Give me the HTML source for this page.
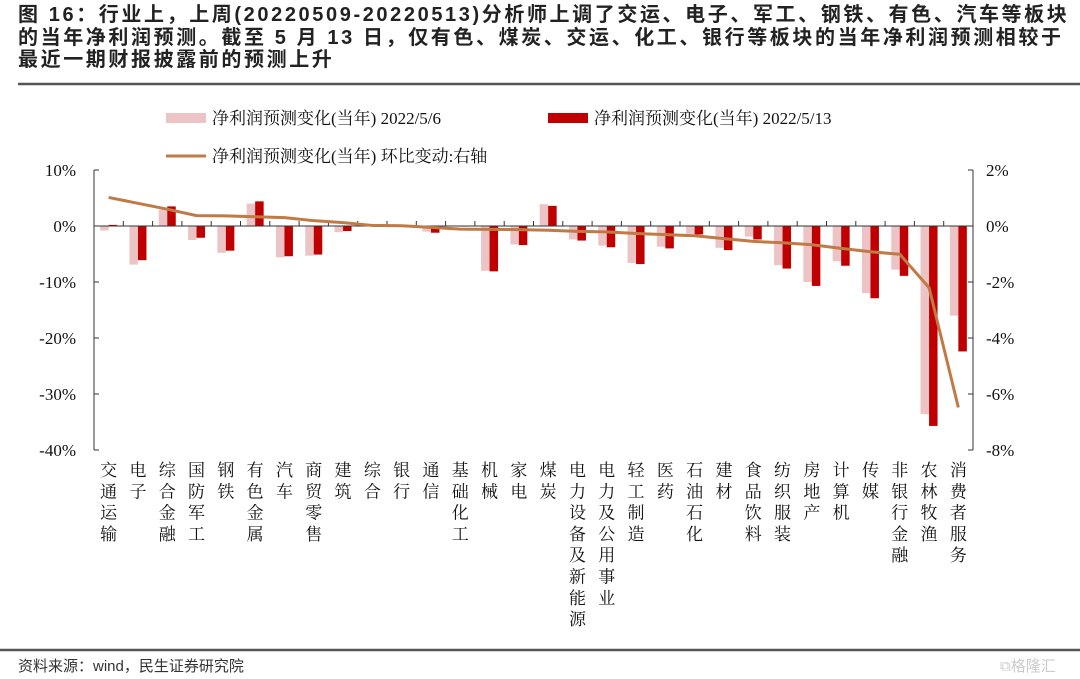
<!DOCTYPE html>
<html><head><meta charset="utf-8">
<style>
body{margin:0;background:#fff;width:1080px;height:679px;overflow:hidden;font-family:"Liberation Sans","Noto Sans CJK SC",sans-serif;}
.title{position:absolute;left:18px;top:4px;font-weight:bold;font-size:20px;letter-spacing:2.6px;line-height:22.5px;color:#222;width:1070px;white-space:nowrap;}
.footer{position:absolute;left:18px;top:655px;font-size:15px;color:#333;}
</style></head><body>
<div class="title">图 16：行业上，上周(20220509-20220513)分析师上调了交运、电子、军工、钢铁、有色、汽车等板块<br>的当年净利润预测。截至 5 月 13 日，仅有色、煤炭、交运、化工、银行等板块的当年净利润预测相较于<br>最近一期财报披露前的预测上升</div>
<svg id="chart" width="1080" height="679" style="position:absolute;left:0;top:0">
<line x1="18" y1="84" x2="1080" y2="84" stroke="#555" stroke-width="2.5"/>
<line x1="0" y1="650" x2="1080" y2="650" stroke="#555" stroke-width="2.5"/>
<g font-family="Liberation Serif,Noto Serif CJK SC,serif" font-size="17" fill="#111">
<rect x="166" y="113" width="40" height="10" fill="#ecc4c6"/>
<text x="212" y="124">净利润预测变化(当年) 2022/5/6</text>
<rect x="548" y="113" width="40" height="10" fill="#c00000"/>
<text x="594" y="124">净利润预测变化(当年) 2022/5/13</text>
<line x1="166" y1="156" x2="206" y2="156" stroke="#c07a45" stroke-width="3"/>
<text x="212" y="162">净利润预测变化(当年) 环比变动:右轴</text>
</g>
<g id="plot"></g>
</svg>
<div class="footer">资料来源：wind，民生证券研究院</div>
<div style="position:absolute;left:1000px;top:655px;font-size:15px;color:#ccc">⧉格隆汇</div>
<script>
const categories=["交通运输","电子","综合金融","国防军工","钢铁","有色金属","汽车","商贸零售","建筑","综合","银行","通信","基础化工","机械","家电","煤炭","电力设备及新能源","电力及公用事业","轻工制造","医药","石油石化","建材","食品饮料","纺织服装","房地产","计算机","传媒","非银行金融","农林牧渔","消费者服务"];
const series0506=[-0.8,-6.9,2.9,-2.5,-4.8,4.0,-5.6,-5.3,-1.1,0,0,-1.0,0.1,-8.0,-3.3,3.9,-2.4,-3.5,-6.6,-3.7,-1.4,-3.9,-1.9,-7.0,-10.0,-6.3,-12.0,-7.8,-33.6,-16.0];
const series0513=[0.2,-6.1,3.5,-2.1,-4.4,4.4,-5.4,-5.1,-0.9,0,0,-1.2,-0.1,-8.1,-3.4,3.6,-2.6,-3.8,-6.8,-4.0,-1.5,-4.3,-2.4,-7.6,-10.7,-7.1,-12.9,-8.9,-35.7,-22.4];
const seriesChange=[1.02,0.81,0.6,0.37,0.36,0.33,0.30,0.19,0.12,0.02,0.01,-0.05,-0.11,-0.12,-0.13,-0.15,-0.19,-0.21,-0.27,-0.31,-0.35,-0.45,-0.55,-0.6,-0.67,-0.8,-0.92,-1.01,-2.2,-6.48];
const leftTicks=[10,0,-10,-20,-30,-40];
const rightTicks=[2,0,-2,-4,-6,-8];
const NS="http://www.w3.org/2000/svg";
const g=document.getElementById('plot');
const X0=94,X1=973,Y0=170,Y1=450;
const step=(X1-X0)/categories.length;
const yL=v=>Y0+(10-v)/50*(Y1-Y0);
const yR=v=>Y0+(2-v)/10*(Y1-Y0);
const xC=i=>X0+step*(i+0.5);
function mk(tag,attrs){const e=document.createElementNS(NS,tag);for(const k in attrs)e.setAttribute(k,attrs[k]);g.appendChild(e);return e;}
categories.forEach((c,i)=>{
  const w=8.5;
  const a=series0506[i],b=series0513[i];
  let r=mk('rect',{x:xC(i)-w,y:Math.min(yL(a),yL(0)),width:w,height:Math.abs(yL(a)-yL(0)),fill:'#ecc4c6'});
  
  
  let r2=mk('rect',{x:xC(i),y:Math.min(yL(b),yL(0)),width:w,height:Math.abs(yL(b)-yL(0)),fill:'#c00000'});
  
  
});
let ax=mk('line',{x1:X0,y1:Y0,x2:X0,y2:Y1,stroke:'#333','stroke-width':1});


let ax2=mk('line',{x1:X1,y1:Y0,x2:X1,y2:Y1,stroke:'#333','stroke-width':1});


let ax3=mk('line',{x1:X0,y1:yL(0),x2:X1,y2:yL(0),stroke:'#333','stroke-width':1});


for(let i=0;i<=categories.length;i++){
  let t=mk('line',{x1:X0+step*i,y1:yL(0),x2:X0+step*i,y2:yL(0)-5,stroke:'#333'});
  
  
}
leftTicks.forEach(v=>{
  let t=mk('line',{x1:X0,y1:yL(v),x2:X0+5,y2:yL(v),stroke:'#333'});
  
  
  let tx=mk('text',{x:X0-18,y:yL(v)+6,'text-anchor':'end','font-size':17,'font-family':'Liberation Serif,serif',fill:'#111'});
  tx.textContent=v+'%';
  
  
});
rightTicks.forEach(v=>{
  let t=mk('line',{x1:X1,y1:yR(v),x2:X1-5,y2:yR(v),stroke:'#333'});
  
  
  let tx=mk('text',{x:X1+13,y:yR(v)+6,'text-anchor':'start','font-size':17,'font-family':'Liberation Serif,serif',fill:'#111'});
  tx.textContent=v+'%';
  
  
});
let pts=seriesChange.map((v,i)=>xC(i)+','+yR(v)).join(' ');
let pl=mk('polyline',{points:pts,fill:'none',stroke:'#c07a45','stroke-width':3,'stroke-linejoin':'round'});


categories.forEach((c,i)=>{
  [...c].forEach((ch,j)=>{
    let tx=mk('text',{x:xC(i),y:476+j*21.3,'text-anchor':'middle','font-size':17,'font-family':'Noto Serif CJK SC,serif',fill:'#111'});
    tx.textContent=ch;
    
    
  });
});
</script>
</body></html>
